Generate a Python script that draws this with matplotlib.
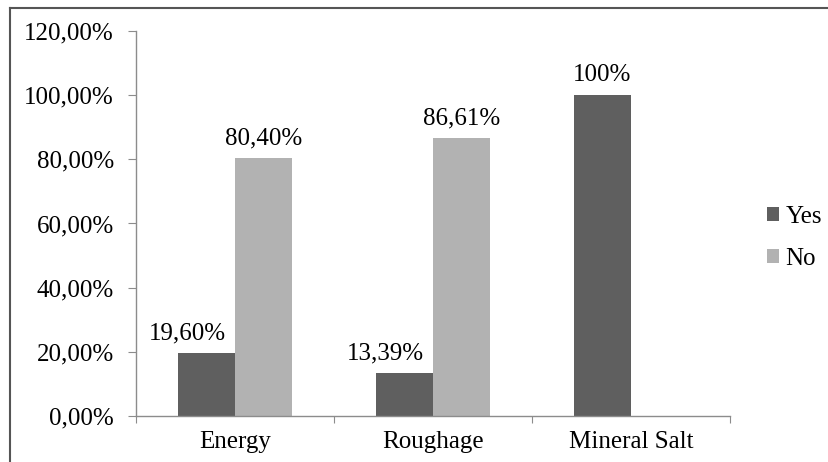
import matplotlib
matplotlib.use("Agg")
import matplotlib.pyplot as plt
import numpy as np
from matplotlib.lines import Line2D

categories = ["Energy", "Roughage", "Mineral Salt"]
yes_vals = [19.60, 13.39, 100.0]
no_vals = [80.40, 86.61, 0.0]
yes_labels = ["19,60%", "13,39%", "100%"]
no_labels = ["80,40%", "86,61%", None]
yticks = [0, 20, 40, 60, 80, 100, 120]
ytick_labels = ["0,00%", "20,00%", "40,00%", "60,00%", "80,00%", "100,00%", "120,00%"]

plt.rcParams['font.family'] = ['Liberation Serif', 'DejaVu Serif']
dark = "#5f5f5f"
light = "#b2b2b2"
axis_col = "#8c8c8c"
fs = 18

fig = plt.figure(figsize=(8.29, 4.62), dpi=100)
ax = fig.add_axes([0.1641, 0.0996, 0.7165, 0.8333])

x = np.arange(len(categories))
w = 0.288
b1 = ax.bar(x - w / 2, yes_vals, w, color=dark, label="Yes")
b2 = ax.bar(x + w / 2, no_vals, w, color=light, label="No")

# value labels (Yes labels on first two groups nudged left like the original)
for i, (r, lab) in enumerate(zip(b1, yes_labels)):
    dx = -13.7 if i < 2 else 0
    ax.annotate(lab, (r.get_x() + r.get_width() / 2, r.get_height()),
                xytext=(dx, 10), textcoords="offset points",
                ha="center", va="baseline", fontsize=fs)
for r, lab in zip(b2, no_labels):
    if lab is None:
        continue
    ax.annotate(lab, (r.get_x() + r.get_width() / 2, r.get_height()),
                xytext=(0, 10), textcoords="offset points",
                ha="center", va="baseline", fontsize=fs)

ax.set_xlim(-0.5, len(categories) - 0.5)
ax.set_ylim(0, 120)
ax.set_yticks(yticks)
ax.set_yticklabels(ytick_labels, fontsize=fs)
ax.set_xticks(np.arange(-0.5, len(categories), 1.0))
ax.set_xticklabels([])
ax.set_xticks(x, minor=True)
ax.set_xticklabels(categories, minor=True, fontsize=fs)
ax.tick_params(axis="x", which="minor", length=0, pad=11)
ax.tick_params(axis="x", which="major", length=5, color=axis_col, direction="out")
ax.tick_params(axis="y", length=6, color=axis_col, direction="out", pad=10)

for s in ["top", "right"]:
    ax.spines[s].set_visible(False)
for s in ["left", "bottom"]:
    ax.spines[s].set_color(axis_col)
    ax.spines[s].set_linewidth(1.0)

ax.legend(loc="center left", bbox_to_anchor=(0.925, 0.485), bbox_transform=fig.transFigure,
          frameon=False, fontsize=fs, handlelength=0.5, handleheight=0.5,
          handletextpad=0.25, labelspacing=0.8, borderaxespad=0, borderpad=0)

# outer frame (top and left edges visible in the reference)
fig.add_artist(Line2D([10 / 829, 1], [1 - 8 / 462, 1 - 8 / 462], transform=fig.transFigure,
                      color="#555555", lw=1.5))
fig.add_artist(Line2D([10 / 829, 10 / 829], [0, 1 - 8 / 462], transform=fig.transFigure,
                      color="#555555", lw=1.5))

fig.savefig("out.png", dpi=100)
